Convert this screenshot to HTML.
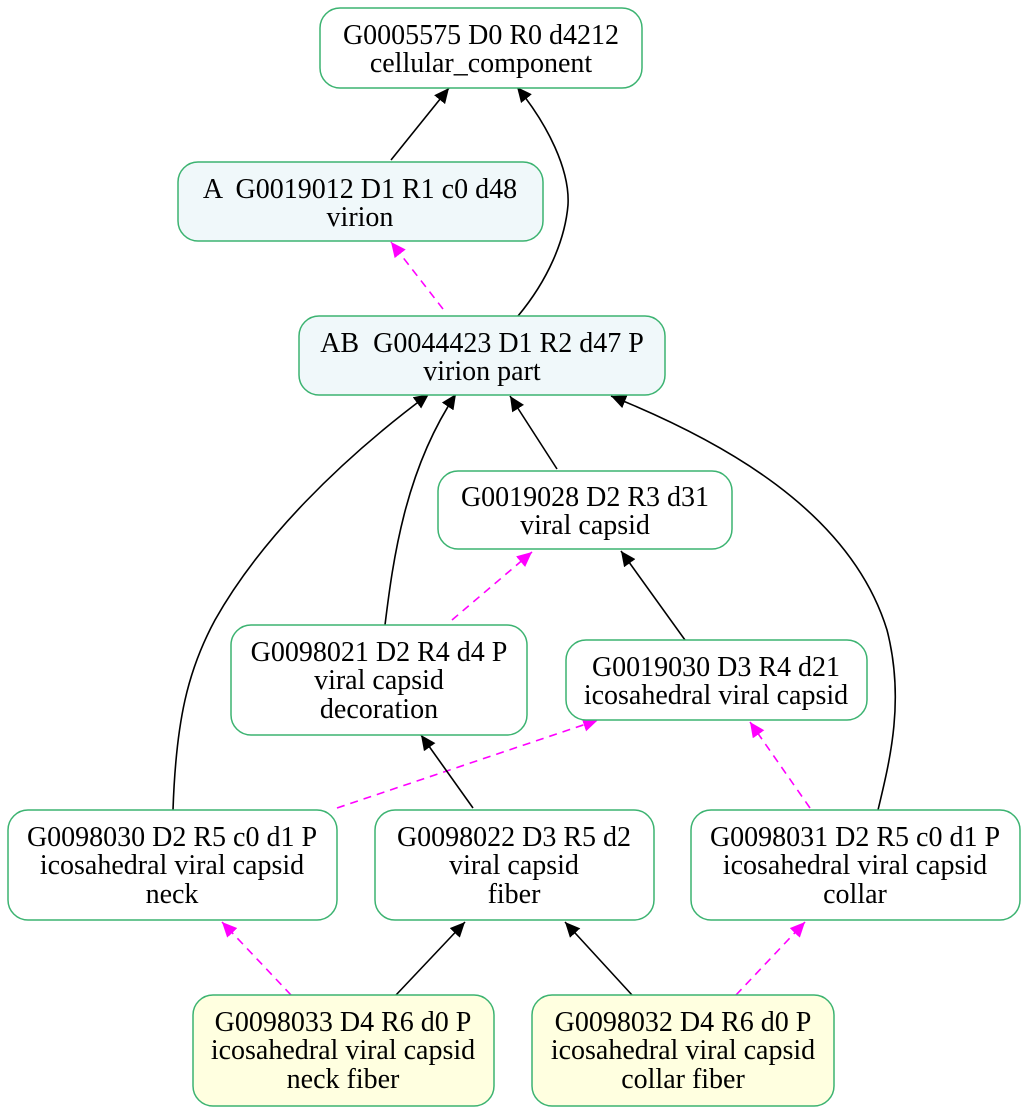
<!DOCTYPE html>
<html><head><meta charset="utf-8"><style>
html,body{margin:0;padding:0;background:#fff}
svg{display:block}
text{font-family:"Liberation Serif",serif;font-size:28px;fill:#000;text-anchor:middle}
.n{stroke:#3cb371;stroke-width:1.5}
.e{fill:none;stroke:#000;stroke-width:1.6}
.d{fill:none;stroke:#ff00ff;stroke-width:1.6;stroke-dasharray:8,6}
</style></head><body>
<svg width="1029" height="1115" viewBox="0 0 1029 1115" xmlns="http://www.w3.org/2000/svg">
<defs>
<marker id="a" markerUnits="userSpaceOnUse" markerWidth="16" markerHeight="16" refX="15" refY="7" orient="auto"><path d="M0,0 L15,7 L0,14 Z" fill="#000"/></marker>
<marker id="m" markerUnits="userSpaceOnUse" markerWidth="16" markerHeight="16" refX="15" refY="7" orient="auto"><path d="M0,0 L15,7 L0,14 Z" fill="#ff00ff"/></marker>
</defs>
<path class="e" marker-end="url(#a)" d="M391,160 L449,88"/>
<path class="e" marker-end="url(#a)" d="M518,316 C548,280 565,240 568,205 C570,170 548,125 517,87"/>
<path class="d" marker-end="url(#m)" d="M443,309 L391,242"/>
<path class="e" marker-end="url(#a)" d="M557,469 L510,396"/>
<path class="e" marker-end="url(#a)" d="M385,625 C393,560 405,470 456,394"/>
<path class="d" marker-end="url(#m)" d="M452,620 L532,552"/>
<path class="e" marker-end="url(#a)" d="M685,640 L621,551"/>
<path class="e" marker-end="url(#a)" d="M173,810 C176,720 188,670 215,620 C260,540 340,460 429,394"/>
<path class="e" marker-end="url(#a)" d="M878,810 C890,760 905,700 887,630 C850,510 720,440 611,396"/>
<path class="d" marker-end="url(#m)" d="M337,808 L598,720"/>
<path class="e" marker-end="url(#a)" d="M473,808 L421,735"/>
<path class="d" marker-end="url(#m)" d="M810,808 L750,722"/>
<path class="d" marker-end="url(#m)" d="M291,995 L222,922"/>
<path class="e" marker-end="url(#a)" d="M396,995 L465,922"/>
<path class="e" marker-end="url(#a)" d="M632,995 L565,922"/>
<path class="d" marker-end="url(#m)" d="M736,995 L805,922"/>

<rect class="n" x="320" y="8" width="322" height="80" rx="20" fill="#fff"/>
<text x="481" y="44">G0005575 D0 R0 d4212</text><text x="481" y="72">cellular_component</text>

<rect class="n" x="178" y="162" width="365" height="79" rx="20" fill="#f0f8fa"/>
<text x="360" y="198" xml:space="preserve">A  G0019012 D1 R1 c0 d48</text><text x="360" y="226">virion</text>

<rect class="n" x="299" y="316" width="366" height="79" rx="20" fill="#f0f8fa"/>
<text x="482" y="352" xml:space="preserve">AB  G0044423 D1 R2 d47 P</text><text x="482" y="380">virion part</text>

<rect class="n" x="438" y="471" width="294" height="78" rx="20" fill="#fff"/>
<text x="585" y="506">G0019028 D2 R3 d31</text><text x="585" y="534">viral capsid</text>

<rect class="n" x="231" y="625" width="296" height="110" rx="20" fill="#fff"/>
<text x="379" y="661">G0098021 D2 R4 d4 P</text><text x="379" y="689">viral capsid</text><text x="379" y="718">decoration</text>

<rect class="n" x="566" y="640" width="301" height="80" rx="20" fill="#fff"/>
<text x="716" y="676">G0019030 D3 R4 d21</text><text x="716" y="704">icosahedral viral capsid</text>

<rect class="n" x="8" y="810" width="329" height="110" rx="20" fill="#fff"/>
<text x="172" y="846">G0098030 D2 R5 c0 d1 P</text><text x="172" y="874">icosahedral viral capsid</text><text x="172" y="903">neck</text>

<rect class="n" x="375" y="810" width="279" height="110" rx="20" fill="#fff"/>
<text x="514" y="846">G0098022 D3 R5 d2</text><text x="514" y="874">viral capsid</text><text x="514" y="903">fiber</text>

<rect class="n" x="691" y="810" width="329" height="110" rx="20" fill="#fff"/>
<text x="855" y="846">G0098031 D2 R5 c0 d1 P</text><text x="855" y="874">icosahedral viral capsid</text><text x="855" y="903">collar</text>

<rect class="n" x="193" y="995" width="301" height="111" rx="20" fill="#ffffe0"/>
<text x="343" y="1031">G0098033 D4 R6 d0 P</text><text x="343" y="1059">icosahedral viral capsid</text><text x="343" y="1088">neck fiber</text>

<rect class="n" x="532" y="995" width="302" height="111" rx="20" fill="#ffffe0"/>
<text x="683" y="1031">G0098032 D4 R6 d0 P</text><text x="683" y="1059">icosahedral viral capsid</text><text x="683" y="1088">collar fiber</text>
</svg>
</body></html>
